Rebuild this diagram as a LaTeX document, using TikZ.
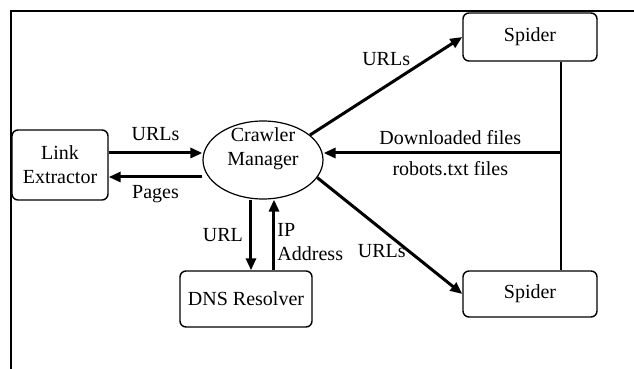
\documentclass[tikz,border=0pt]{standalone}
\usepackage{fontspec}
\setmainfont{Liberation Serif}
\usetikzlibrary{arrows.meta,shapes.geometric}

\begin{document}
\begin{tikzpicture}[x=0.5pt,y=-0.5pt,
    box/.style={draw,rounded corners=3pt,line width=0.7pt,align=center},
    hub/.style={draw,ellipse,line width=0.6pt,minimum width=60pt,minimum height=39pt},
    flow/.style={-{Triangle[length=6pt,width=5pt]},line width=1.5pt},
    wire/.style={line width=0.6pt}]
    \useasboundingbox (0,0) rectangle (634,369);
    \draw[wire] (634,11) -- (11,11) -- (11,369);

    \node[box,minimum width=48pt,minimum height=35pt] (lx)  at (60,165)  {Link\\Extractor};
    \node[hub]                                        (cm)  at (263,160) {};
    \node[align=center] (cmtext) at ([yshift=5.5pt]cm.center) {Crawler\\Manager};
    \node[box,minimum width=66pt,minimum height=28pt] (dns) at (246,299) {DNS Resolver};
    \node[box,minimum width=67pt,minimum height=24pt] (sp1) at (530,37)  {Spider};
    \node[box,minimum width=67pt,minimum height=23pt] (sp2) at (530,294) {Spider};
    \coordinate (tap) at (561,153);

    % link extractor <-> manager
    \draw[flow] ([yshift=6pt]lx.east) -- ([yshift=6pt]lx.east -| cm.west)
        node[midway,above=2pt] {URLs};
    \draw[flow] ([yshift=-6pt]lx.east -| cm.west) -- ([yshift=-6pt]lx.east)
        node[midway,below] {Pages};

    % manager <-> dns
    \draw[flow] ([xshift=-6pt]cm.south) -- ([xshift=-6pt]cm.south |- dns.north)
        node[midway,left] {URL};
    \draw[flow] ([xshift=5.5pt]cm.south |- dns.north) -- ([xshift=5.5pt]cm.south)
        node[pos=0.4,right,align=left,inner sep=1pt] {IP\\Address};

    % manager -> spiders
    \draw[flow] (cm.28) -- (sp1.west) node[midway,above=6pt] {URLs};
    \draw[flow] (cm.-18) -- (sp2.west) node[midway,below left,xshift=12pt] {URLs};

    % spiders -> manager
    \draw[wire] (tap |- sp1.south) -- (tap |- sp2.north);
    \draw[flow] (tap) -- (tap -| cm.east)
        node[midway,above,xshift=4pt] {Downloaded files}
        node[midway,below,xshift=4pt] {robots.txt files};
\end{tikzpicture}
\end{document}
